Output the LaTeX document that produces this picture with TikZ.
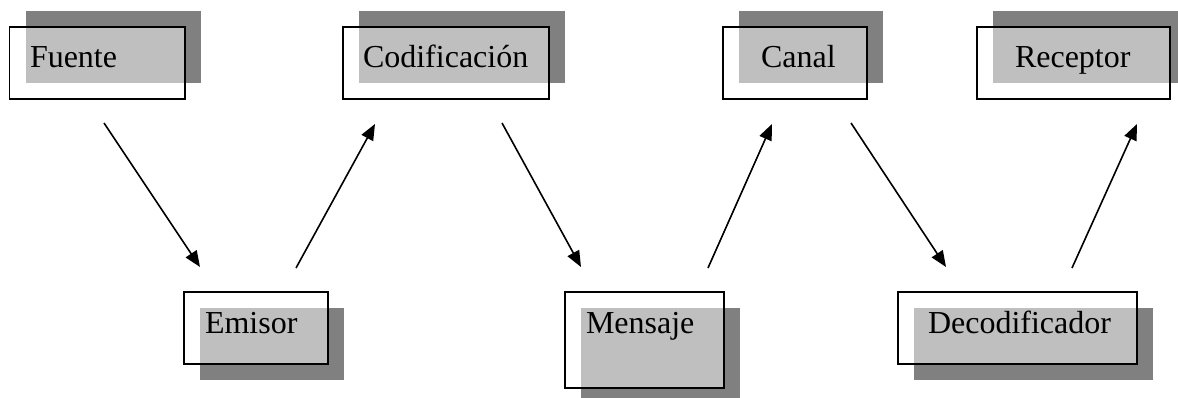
\documentclass[tikz,border=0pt]{standalone}
\usepackage{fontspec}
\setmainfont{Liberation Serif}
\usetikzlibrary{arrows.meta,backgrounds}
\definecolor{shadowgray}{HTML}{808080}
\begin{document}
\begin{tikzpicture}[x=1pt,y=-1pt,
  boxnode/.style={draw=black, line width=1.9pt, fill=white, fill opacity=0.5,
    rectangle, inner sep=0pt, outer sep=0pt, anchor=north west},
  lbl/.style={anchor=base west, inner sep=0pt, outer sep=0pt, text=black,
    font=\fontsize{32}{38}\selectfont},
  flow/.style={line width=1.6pt, -{Triangle[length=16pt,width=13pt]}},
  shadowbox/.style={fill=shadowgray}]
\useasboundingbox (0,0) rectangle (1178,398);
\clip (0,0) rectangle (1178,398);
% boxes
\node[boxnode, minimum width=175.5pt, minimum height=72pt] (fuente) at (9.5,27) {};
\node[boxnode, minimum width=206pt, minimum height=72pt] (codif) at (343,27) {};
\node[boxnode, minimum width=144pt, minimum height=72pt] (canal) at (723,27) {};
\node[boxnode, minimum width=193pt, minimum height=72pt] (receptor) at (977,27) {};
\node[boxnode, minimum width=144pt, minimum height=72pt] (emisor) at (184,292) {};
\node[boxnode, minimum width=159pt, minimum height=96pt] (mensaje) at (565,292) {};
\node[boxnode, minimum width=239pt, minimum height=72pt] (decod) at (898,292) {};
% shadows
\begin{pgfonlayer}{background}
\foreach \b/\dy in {fuente/-16,codif/-16,canal/-16,receptor/-16,emisor/16,mensaje/16,decod/16}{
  \fill[shadowbox] ([shift={(16,\dy)}]\b.north west) rectangle ([shift={(16,\dy)}]\b.south east);
}
\end{pgfonlayer}
% labels
\node[lbl] (fuente-t) at (30,68) {Fuente};
\node[lbl] (codif-t) at (363,68) {Codificación};
\node[lbl] (canal-t) at (761,68) {Canal};
\node[lbl] (receptor-t) at (1015,68) {Receptor};
\node[lbl] (emisor-t) at (205,333) {Emisor};
\node[lbl] (mensaje-t) at (586,333) {Mensaje};
\node[lbl] (decod-t) at (928,333) {Decodificador};
% arrow ends
\coordinate (a1s) at (104,123); \coordinate (a1e) at (200,267);
\coordinate (a2s) at (296,268); \coordinate (a2e) at (375,124);
\coordinate (a3s) at (502,123); \coordinate (a3e) at (581,267);
\coordinate (a4s) at (708,268); \coordinate (a4e) at (772,124);
\coordinate (a5s) at (851,123); \coordinate (a5e) at (946,267);
\coordinate (a6s) at (1072,268); \coordinate (a6e) at (1137,124);
\draw[flow] (a1s) -- (a1e);
\draw[flow] (a2s) -- (a2e);
\draw[flow] (a3s) -- (a3e);
\draw[flow] (a4s) -- (a4e);
\draw[flow] (a5s) -- (a5e);
\draw[flow] (a6s) -- (a6e);
\end{tikzpicture}
\end{document}
